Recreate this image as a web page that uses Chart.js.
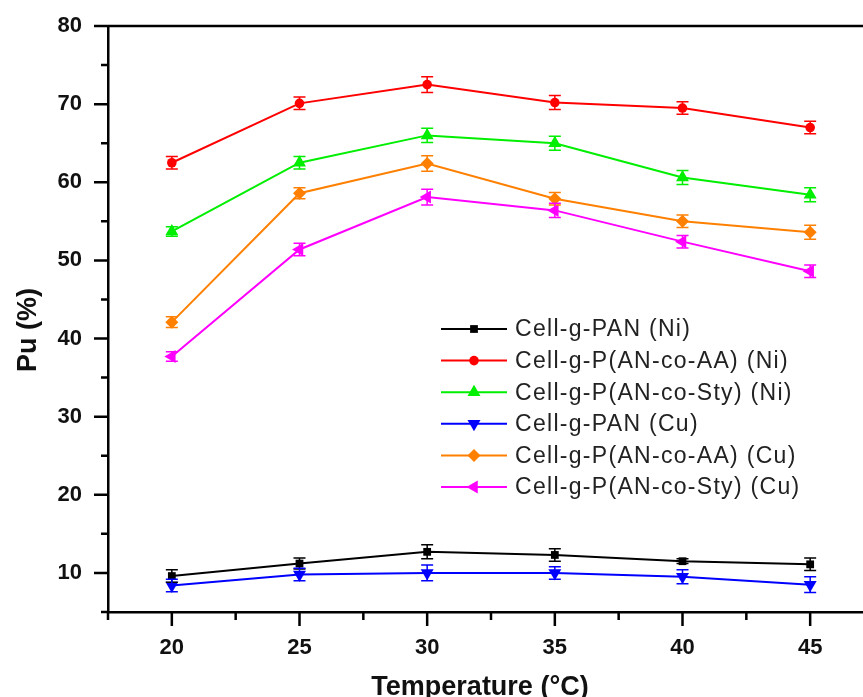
<!DOCTYPE html>
<html>
<head>
<meta charset="utf-8">
<script src="https://cdn.jsdelivr.net/npm/chart.js@4.4.0/dist/chart.umd.min.js"></script>
<style>
  html, body { margin: 0; padding: 0; background: #fff; overflow: hidden; }
  canvas { display: block; }
</style>
</head>
<body>
<canvas id="chartPu" width="900" height="697"></canvas>
<script>
const temperatures = [20, 25, 30, 35, 40, 45];

// Pu (%) per series
const panNi = [9.6, 11.2, 12.7, 12.3, 11.5, 11.1];
const aaNi = [62.5, 70.1, 72.5, 70.2, 69.5, 67.0];
const styNi = [53.7, 62.5, 66.0, 65.0, 60.6, 58.4];
const panCu = [8.4, 9.8, 10.0, 10.0, 9.5, 8.5];
const aaCu = [42.1, 58.6, 62.4, 57.9, 55.0, 53.6];
const styCu = [37.7, 51.4, 58.1, 56.4, 52.4, 48.6];

// error bars (+/-)
const panNiErr = [0.8, 0.7, 0.9, 0.8, 0.3, 0.8];
const aaNiErr = [0.8, 0.8, 1.0, 0.9, 0.8, 0.8];
const styNiErr = [0.6, 0.8, 0.9, 0.9, 0.9, 0.9];
const panCuErr = [0.8, 0.8, 1.0, 0.8, 0.9, 1.0];
const aaCuErr = [0.7, 0.7, 1.0, 0.8, 0.8, 0.9];
const styCuErr = [0.6, 0.8, 1.0, 0.9, 0.8, 0.8];

const seriesLabels = [
  "Cell-g-PAN (Ni)",
  "Cell-g-P(AN-co-AA) (Ni)",
  "Cell-g-P(AN-co-Sty) (Ni)",
  "Cell-g-PAN (Cu)",
  "Cell-g-P(AN-co-AA) (Cu)",
  "Cell-g-P(AN-co-Sty) (Cu)",
];

const xTicks = [20, 25, 30, 35, 40, 45];
const yTicks = [10, 20, 30, 40, 50, 60, 70, 80];

const FONT = "'Liberation Sans', Arial, sans-serif";

function makeSeries(label, values, errs, color, style, radius, rotation) {
  return {
    label: label,
    data: temperatures.map((t, i) => ({ x: t, y: values[i] })),
    errors: errs,
    borderColor: color,
    backgroundColor: color,
    borderWidth: 2,
    pointStyle: style,
    pointRadius: radius,
    pointRotation: rotation,
    pointBorderWidth: 0,
    pointBackgroundColor: color,
    tension: 0,
  };
}

const datasets = [
  makeSeries(seriesLabels[0], panNi, panNiErr, "#000000", "rect", 5.5, 0),
  makeSeries(seriesLabels[1], aaNi, aaNiErr, "#ff0000", "circle", 4.8, 0),
  makeSeries(seriesLabels[2], styNi, styNiErr, "#00ee00", "triangle", 7.5, 0),
  makeSeries(seriesLabels[3], panCu, panCuErr, "#0000ff", "triangle", 7.5, 180),
  makeSeries(seriesLabels[4], aaCu, aaCuErr, "#ff8000", "rectRot", 6.5, 0),
  makeSeries(seriesLabels[5], styCu, styCuErr, "#ff00ff", "triangle", 7.5, -90),
];

const errorBars = {
  id: "errorBars",
  afterDatasetsDraw(chart) {
    const ctx = chart.ctx;
    const xs = chart.scales.x;
    const ys = chart.scales.y;
    ctx.save();
    ctx.lineWidth = 1.5;
    chart.data.datasets.forEach((ds) => {
      ctx.strokeStyle = ds.borderColor;
      ds.data.forEach((p, i) => {
        const e = ds.errors[i];
        const px = xs.getPixelForValue(p.x);
        const top = ys.getPixelForValue(p.y + e);
        const bot = ys.getPixelForValue(p.y - e);
        ctx.beginPath();
        ctx.moveTo(px, top);
        ctx.lineTo(px, bot);
        ctx.moveTo(px - 6, top);
        ctx.lineTo(px + 6, top);
        ctx.moveTo(px - 6, bot);
        ctx.lineTo(px + 6, bot);
        ctx.stroke();
      });
    });
    ctx.restore();
  },
};

const frameAndTicks = {
  id: "frameAndTicks",
  afterDraw(chart) {
    const { ctx, chartArea: a } = chart;
    const xs = chart.scales.x;
    const ys = chart.scales.y;
    ctx.save();
    ctx.strokeStyle = "#000";
    ctx.lineWidth = 2.5;
    ctx.beginPath();
    // top frame line
    ctx.moveTo(a.left, a.top);
    ctx.lineTo(a.right, a.top);
    // y ticks (major every 10, minor every 5)
    for (let v = ys.min; v <= ys.max; v += 5) {
      const py = ys.getPixelForValue(v);
      const len = v % 10 === 0 ? 14 : 7;
      ctx.moveTo(a.left, py);
      ctx.lineTo(a.left - len, py);
    }
    // x ticks (major every 5, minor every 2.5)
    for (let v = xs.min; v <= xs.max; v += 2.5) {
      const px = xs.getPixelForValue(v);
      const len = v % 5 === 0 ? 14 : 8;
      ctx.moveTo(px, a.bottom);
      ctx.lineTo(px, a.bottom + len);
    }
    ctx.stroke();

    // axis titles
    ctx.fillStyle = "#111";
    ctx.font = "bold 27px " + FONT;
    ctx.textAlign = "center";
    ctx.textBaseline = "alphabetic";
    ctx.fillText("Temperature (\u00B0C)", 480, 695);
    ctx.translate(36, 330);
    ctx.rotate(-Math.PI / 2);
    ctx.fillText("Pu (%)", 0, 0);
    ctx.restore();
  },
};

const innerLegend = {
  id: "innerLegend",
  afterDraw(chart) {
    const ctx = chart.ctx;
    ctx.save();
    chart.data.datasets.forEach((ds, i) => {
      const y = 329 + i * 31.6;
      ctx.strokeStyle = ds.borderColor;
      ctx.fillStyle = ds.borderColor;
      ctx.lineWidth = 2;
      ctx.beginPath();
      ctx.moveTo(441, y);
      ctx.lineTo(507, y);
      ctx.stroke();
      Chart.helpers.drawPoint(ctx, {
        pointStyle: ds.pointStyle,
        radius: ds.pointRadius,
        rotation: ds.pointRotation,
        borderWidth: 0,
      }, 474, y);
      ctx.fillStyle = "#222";
      ctx.font = "23px " + FONT;
      ctx.letterSpacing = "1.3px";
      ctx.textAlign = "left";
      ctx.textBaseline = "middle";
      ctx.fillText(ds.label, 515, y + 1);
    });
    ctx.restore();
  },
};

const ctxPu = document.getElementById("chartPu");
const chartPu = new Chart(ctxPu, {
  type: "line",
  data: { datasets: datasets },
  plugins: [errorBars, frameAndTicks, innerLegend],
  options: {
    responsive: false,
    animation: false,
    layout: { padding: { left: 0, top: 26, right: 26, bottom: 0 } },
    plugins: {
      legend: { display: false },
      tooltip: { enabled: false },
    },
    scales: {
      x: {
        type: "linear",
        min: 17.5,
        max: 47.5,
        afterBuildTicks: (scale) => {
          scale.ticks = xTicks.map((v) => ({ value: v }));
        },
        afterFit: (scale) => {
          scale.height = 85;
          scale.paddingLeft = 0;
          scale.paddingRight = 0;
        },
        grid: { display: false, drawTicks: false },
        border: { display: true, color: "#000", width: 2.5 },
        ticks: {
          autoSkip: false,
          maxRotation: 0,
          padding: 23,
          color: "#111",
          font: { family: FONT, size: 22, weight: "bold" },
        },
      },
      y: {
        min: 5,
        max: 80,
        afterBuildTicks: (scale) => {
          scale.ticks = yTicks.map((v) => ({ value: v }));
        },
        afterFit: (scale) => {
          // keep the label padding from pushing the plot area down
          scale.width = 108;
          scale.paddingTop = 0;
          scale.paddingBottom = 0;
        },
        grid: { display: false, drawTicks: false },
        border: { display: true, color: "#000", width: 2.5 },
        ticks: {
          padding: 26,
          color: "#111",
          font: { family: FONT, size: 22, weight: "bold" },
        },
      },
    },
  },
});
</script>
</body>
</html>
